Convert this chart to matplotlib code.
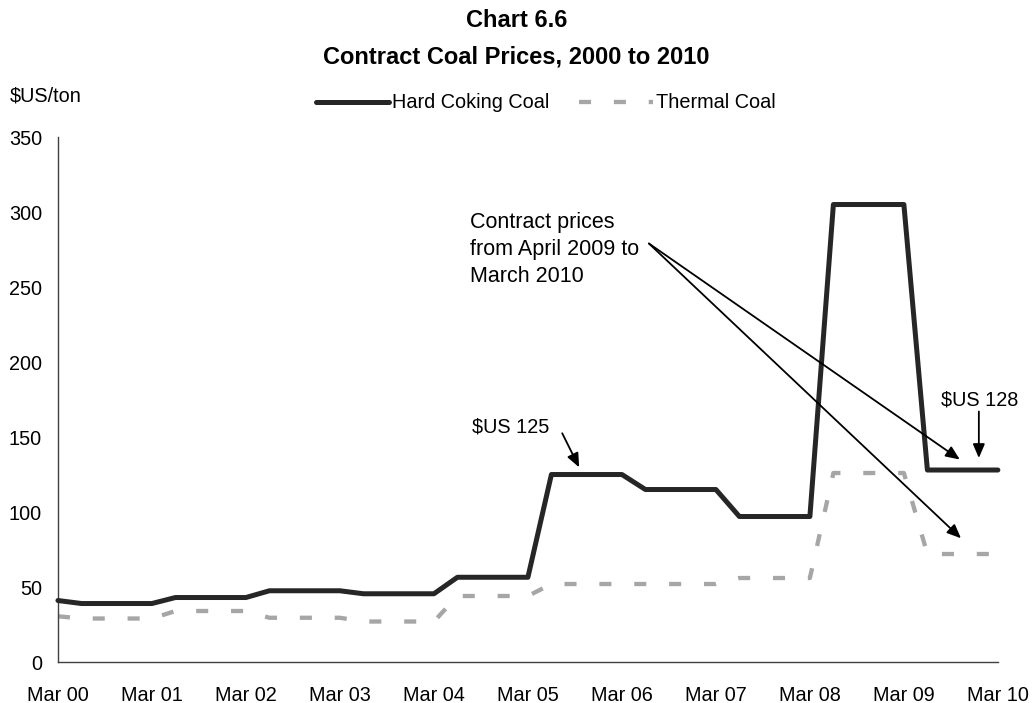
import matplotlib.pyplot as plt
import numpy as np

plt.rcParams['font.family'] = ['Liberation Sans', 'DejaVu Sans']

# Quarterly contract prices, Mar 2000 to Mar 2010 ($US/ton)
hard_coking = [41,
               39, 39, 39, 39,
               43, 43, 43, 43,
               47.5, 47.5, 47.5, 47.5,
               45.5, 45.5, 45.5, 45.5,
               56.5, 56.5, 56.5, 56.5,
               125, 125, 125, 125,
               115, 115, 115, 115,
               97, 97, 97, 97,
               305, 305, 305, 305,
               128, 128, 128, 128]
thermal = [30.5,
           29, 29, 29, 29,
           34, 34, 34, 34,
           29.5, 29.5, 29.5, 29.5,
           27, 27, 27, 27,
           44, 44, 44, 44,
           52, 52, 52, 52,
           52, 52, 52, 52,
           56, 56, 56, 56,
           126, 126, 126, 126,
           72, 72, 72, 72]
tick_labels = ['Mar 00', 'Mar 01', 'Mar 02', 'Mar 03', 'Mar 04', 'Mar 05',
               'Mar 06', 'Mar 07', 'Mar 08', 'Mar 09', 'Mar 10']

x = np.arange(len(hard_coking))

fig = plt.figure(figsize=(10.33, 7.03), dpi=100)
ax = fig.add_axes([0.0561, 0.0583, 0.9099, 0.7468])

ax.plot(x, hard_coking, color='#262626', lw=3.6, solid_capstyle='round',
        label='Hard Coking Coal', clip_on=False, zorder=3)
ax.plot(x, thermal, color='#a6a6a6', lw=3.1, linestyle=(0, (2.8, 5.3)),
        label='Thermal Coal', clip_on=False, zorder=2)

ax.set_xlim(0, len(x) - 1)
ax.set_ylim(0, 350)
ax.set_xticks(x[::4])
ax.set_xticklabels(tick_labels)
ax.set_yticks(np.arange(0, 351, 50))
ax.tick_params(axis='both', length=0, labelsize=14.3)
ax.tick_params(axis='x', pad=17)
ax.tick_params(axis='y', pad=11.5)
for side in ['top', 'right']:
    ax.spines[side].set_visible(False)
for side in ['left', 'bottom']:
    ax.spines[side].set_color('#404040')
    ax.spines[side].set_linewidth(1)

# titles and unit label
fig.text(0.5, 0.962, 'Chart 6.6', ha='center', va='baseline',
         fontsize=17, fontweight='bold')
fig.text(0.5, 0.91, 'Contract Coal Prices, 2000 to 2010', ha='center',
         va='baseline', fontsize=17, fontweight='bold')
fig.text(0.0097, 0.8553, '$US/ton', ha='left', va='baseline', fontsize=14.3)

fig.legend(loc='center', bbox_to_anchor=(0.528, 0.8535), ncol=2,
           frameon=False, fontsize=14.3, handlelength=3.7,
           handletextpad=0.15, columnspacing=1.5)

# annotations
arrow = dict(arrowstyle='-|>,head_length=0.42,head_width=0.18',
             color='black', lw=1.3, shrinkA=0, shrinkB=0, mutation_scale=20)

ax.text(17.55, 300, 'Contract prices\nfrom April 2009 to\nMarch 2010',
        ha='left', va='top', fontsize=15.5, linespacing=1.36)
ax.annotate('', xy=(38.38, 135), xytext=(25.15, 279), arrowprops=arrow)
ax.annotate('', xy=(38.43, 82.5), xytext=(25.15, 279), arrowprops=arrow)

ax.text(19.27, 157, '$US 125', ha='center', va='center', fontsize=14.3)
ax.annotate('', xy=(22.18, 129.8), xytext=(21.46, 152.5), arrowprops=arrow)

ax.text(39.23, 175, '$US 128', ha='center', va='center', fontsize=14.3)
ax.annotate('', xy=(39.19, 136), xytext=(39.19, 167), arrowprops=arrow)

plt.savefig('out.png', dpi=100)
plt.close()
